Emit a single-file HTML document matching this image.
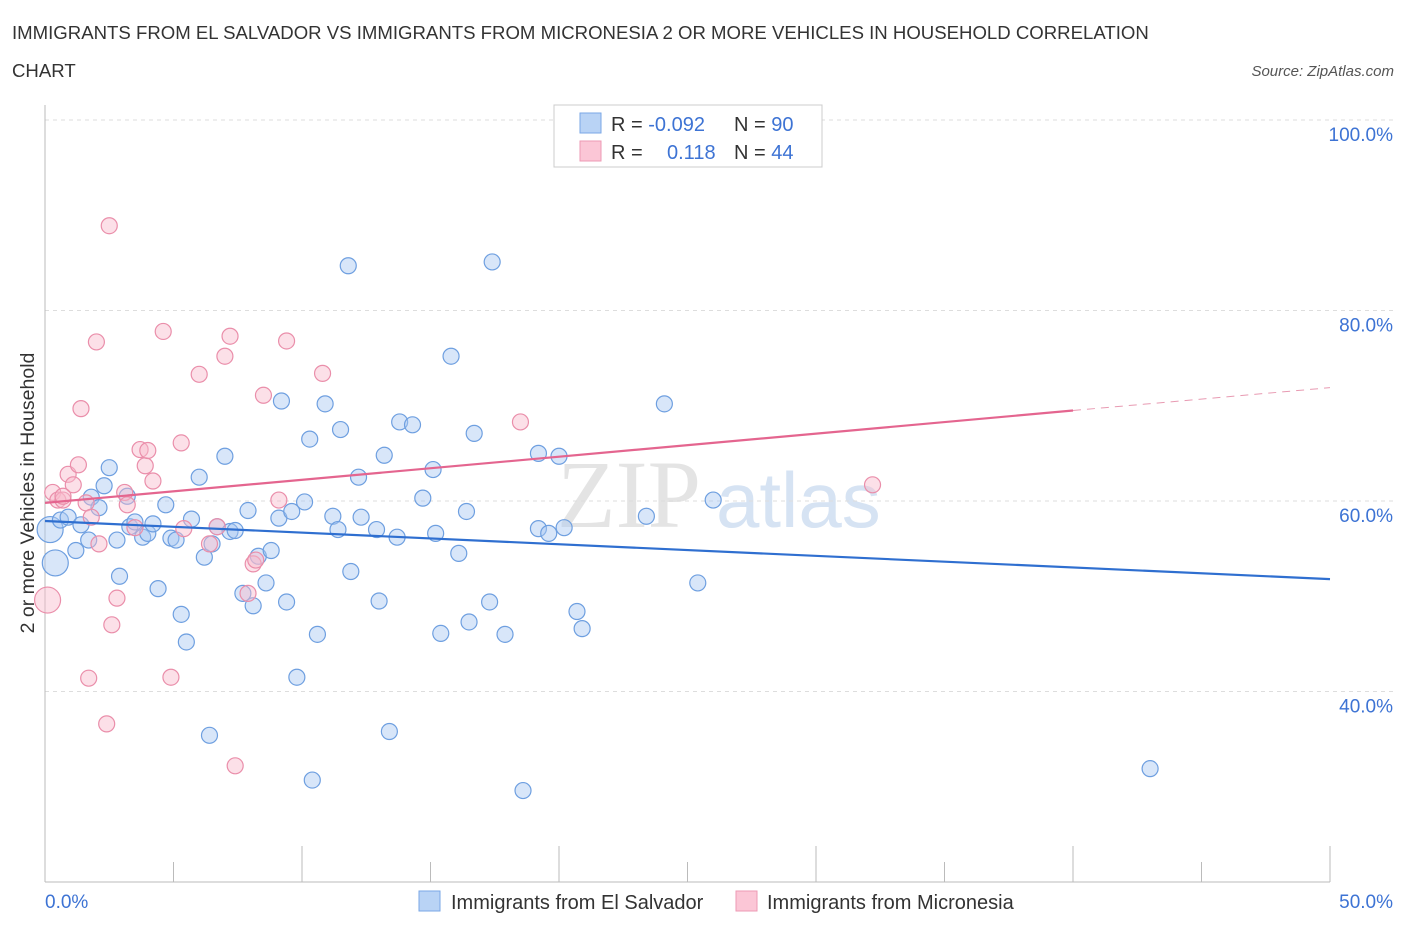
<!DOCTYPE html>
<html><head><meta charset="utf-8"><style>
body{margin:0;background:#fff;font-family:"Liberation Sans",sans-serif;}
</style></head><body>
<svg id="chart" width="1406" height="930" xmlns="http://www.w3.org/2000/svg" font-family="Liberation Sans, sans-serif">
<text x="12" y="39" font-size="18.6" fill="#333">IMMIGRANTS FROM EL SALVADOR VS IMMIGRANTS FROM MICRONESIA 2 OR MORE VEHICLES IN HOUSEHOLD CORRELATION</text>
<text x="12" y="77" font-size="18.6" fill="#333">CHART</text>
<text x="1394" y="76" font-size="15" fill="#555" font-style="italic" text-anchor="end">Source: ZipAtlas.com</text>
<text x="557" y="527" font-size="96" fill="#e4e4e4" font-family="Liberation Serif, serif">ZIP<tspan fill="#d6e3f3" font-family="Liberation Sans, sans-serif" font-size="78" x="716">atlas</tspan></text>
<g id="grid"></g><g id="marks"></g>
<text transform="translate(34,493) rotate(-90)" font-size="19.5" fill="#333" text-anchor="middle">2 or more Vehicles in Household</text>
<g>
<rect x="554" y="105" width="268" height="62" fill="#fff" stroke="#ccc"/>
<rect x="580" y="113" width="21" height="20" fill="#b9d3f5" stroke="#7aa7e6"/>
<rect x="580" y="141" width="21" height="20" fill="#fbc6d6" stroke="#ee9ab4"/>
<text x="611" y="131" font-size="20" fill="#333">R = <tspan fill="#3d73d4">-0.092</tspan></text>
<text x="734" y="131" font-size="20" fill="#333">N = <tspan fill="#3d73d4">90</tspan></text>
<text x="611" y="159" font-size="20" fill="#333">R = <tspan fill="#3d73d4" x="667">0.118</tspan></text>
<text x="734" y="159" font-size="20" fill="#333">N = <tspan fill="#3d73d4">44</tspan></text>
</g>
<g>
<rect x="419" y="891" width="21" height="20" fill="#b9d3f5" stroke="#7aa7e6"/>
<text x="451" y="909" font-size="20" fill="#333">Immigrants from El Salvador</text>
<rect x="736" y="891" width="21" height="20" fill="#fbc6d6" stroke="#ee9ab4"/>
<text x="767" y="909" font-size="20" fill="#333">Immigrants from Micronesia</text>
</g>
</svg>
<script>
const blueX=[0.2,0.4,0.6,0.9,1.2,1.4,1.7,1.8,2.1,2.3,2.5,2.8,2.9,3.2,3.3,3.5,3.8,4.0,4.2,4.4,4.7,4.9,5.1,5.3,5.5,5.7,6.0,6.2,6.4,6.5,6.7,7.0,7.2,7.4,7.7,7.9,8.1,8.3,8.6,8.8,9.1,9.2,9.4,9.6,9.8,10.1,10.3,10.4,10.6,10.9,11.2,11.4,11.5,11.8,11.9,12.2,12.3,12.9,13.0,13.2,13.4,13.7,13.8,14.3,14.7,15.1,15.2,15.4,15.8,16.1,16.4,16.5,16.7,17.3,17.4,17.9,18.6,19.2,19.2,19.6,20.0,20.2,20.7,20.9,23.4,24.1,25.4,26.0,43.0];
const blueY=[57.0,53.5,58.0,58.3,54.8,57.5,55.9,60.4,59.3,61.6,63.5,55.9,52.1,60.5,57.3,57.8,56.2,56.6,57.6,50.8,59.6,56.1,55.9,48.1,45.2,58.1,62.5,54.1,35.4,55.5,57.3,64.7,56.8,56.9,50.3,59.0,49.0,54.2,51.4,54.8,58.2,70.5,49.4,58.9,41.5,59.9,66.5,30.7,46.0,70.2,58.4,57.0,67.5,84.7,52.6,62.5,58.3,57.0,49.5,64.8,35.8,56.2,68.3,68.0,60.3,63.3,56.6,46.1,75.2,54.5,58.9,47.3,67.1,49.4,85.1,46.0,29.6,57.1,65.0,56.6,64.7,57.2,48.4,46.6,58.4,70.2,51.4,60.1,31.9];
const pinkX=[0.1,0.3,0.5,0.7,0.9,1.1,1.3,1.4,1.6,1.8,2.0,2.1,2.4,1.7,2.6,2.8,3.1,3.2,3.5,3.7,3.9,4.0,4.2,4.6,4.9,5.3,5.4,6.0,6.4,6.7,7.0,7.2,7.4,7.9,8.1,8.2,8.5,9.1,9.4,10.8,18.5,32.2,2.5,0.7];
const pinkY=[49.6,60.9,60.1,60.1,62.8,61.7,63.8,69.7,59.8,58.3,76.7,55.5,36.6,41.4,47.0,49.8,60.9,59.6,57.2,65.4,63.7,65.3,62.1,77.8,41.5,66.1,57.1,73.3,55.5,57.3,75.2,77.3,32.2,50.3,53.4,53.8,71.1,60.1,76.8,73.4,68.3,61.7,88.9,60.5];
const blueBig=[0,1], pinkBig=[0];
const blueTrend=[[0,57.9],[50,51.8]];
const pinkTrend=[[0,59.8],[40,69.5]], pinkTrendExt=[[40,69.5],[50,71.9]];
const yTicks=[40,60,80,100], yTickLabels=["40.0%","60.0%","80.0%","100.0%"];
const xEdgeLabels=["0.0%","50.0%"];
const X=v=>45+v*25.7, Y=v=>882-(v-20)*9.525;
const NS="http://www.w3.org/2000/svg";
const grid=document.getElementById('grid'), marks=document.getElementById('marks');
function mk(p,tag,a){const e=document.createElementNS(NS,tag);for(const k in a)e.setAttribute(k,a[k]);p.appendChild(e);return e;}
yTicks.forEach((t,i)=>{
 const l=mk(grid,'line',{x1:45,x2:1395,y1:Y(t),y2:Y(t),stroke:'#ddd','stroke-dasharray':'4,4'});
 
 
 const tx=mk(grid,'text',{x:1393,y:Y(t)+21,'font-size':19,fill:'#3d73d4','text-anchor':'end'});
 tx.textContent=yTickLabels[i];
 
 
});
const ax=mk(grid,'line',{x1:45,x2:45,y1:105,y2:882,stroke:'#bbb'});


const bx=mk(grid,'line',{x1:45,x2:1330,y1:882,y2:882,stroke:'#bbb'});


for(let i=0;i<=10;i++){const v=i*5;const t=mk(grid,'line',{x1:X(v),x2:X(v),y1:882,y2:(i%2==0?846:862),stroke:'#bbb'});
 
 }
[[0,'start'],[50,'end']].forEach((d,i)=>{const t=mk(grid,'text',{x:i?1393:45,y:908,'font-size':19,fill:'#3d73d4','text-anchor':d[1]});t.textContent=xEdgeLabels[i];
 
 });
function dots(xs,ys,big,fill,stroke,name){xs.forEach((x,i)=>{const c=mk(marks,'circle',{cx:X(x),cy:Y(ys[i]),r:big.includes(i)?13:8,fill:fill,'fill-opacity':0.45,stroke:stroke,'stroke-width':1.2});
 
 });}
dots(blueX,blueY,blueBig,'#a9c8f1','#6e9fe0','point-el-salvador');
dots(pinkX,pinkY,pinkBig,'#f8bacd','#ea8eaa','point-micronesia');
function tl(p,col,dash,name){const l=mk(marks,'line',{x1:X(p[0][0]),y1:Y(p[0][1]),x2:X(p[1][0]),y2:Y(p[1][1]),stroke:col,'stroke-width':dash?1:2.2});if(dash)l.setAttribute('stroke-dasharray','8,6');
 
 }
tl(blueTrend,'#2f6fd0',false,'trend-el-salvador');
tl(pinkTrend,'#e4658f',false,'trend-micronesia');
tl(pinkTrendExt,'#e89ab2',true,'trend-micronesia-extension');
</script>
</body></html>
